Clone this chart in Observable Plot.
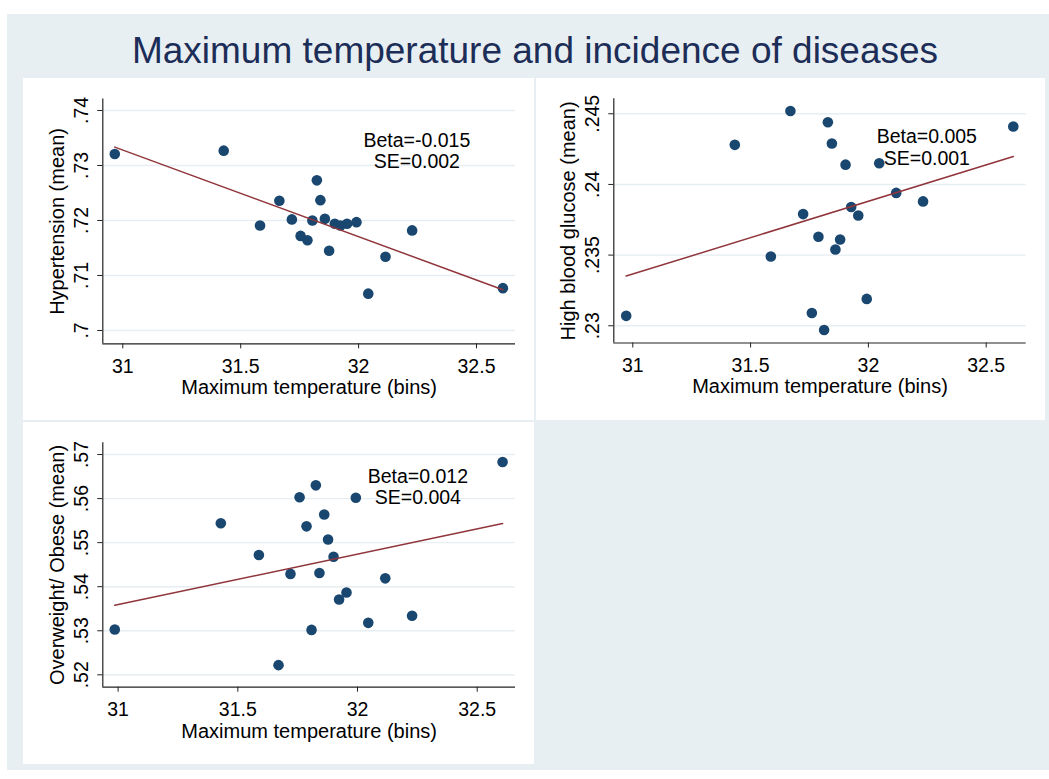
<!DOCTYPE html>
<html>
<head>
<meta charset="utf-8">
<script src="https://cdn.jsdelivr.net/npm/d3@7"></script>
<script src="https://cdn.jsdelivr.net/npm/@observablehq/plot@0.6"></script>
<style>
  html, body { margin: 0; padding: 0; background: #ffffff; }
  body { width: 1049px; height: 779px; position: relative; overflow: hidden;
         font-family: "Liberation Sans", Arial, Helvetica, sans-serif; }
  #bg { position: absolute; left: 7px; top: 14px; width: 1042px; height: 756px; background: #e8eff2; }
  #title { position: absolute; left: 0; top: 31.7px; width: 1070px; text-align: center;
           font-size: 37px; line-height: 37px; color: #1c2d57; white-space: nowrap; }
  .panel { position: absolute; background: #ffffff; }
  .panel svg { display: block; }
</style>
</head>
<body>
<div id="bg"></div>
<div id="title">Maximum temperature and incidence of diseases</div>
<div id="p1" class="panel" style="left:23px; top:78px;"></div>
<div id="p2" class="panel" style="left:536px; top:78px;"></div>
<div id="p3" class="panel" style="left:23px; top:422px;"></div>
<script>
// ---- Data ----
const xLabel = "Maximum temperature (bins)";
const xTicks = [31, 31.5, 32, 32.5];

// Panel 1: Hypertension
const xHyp = [30.966, 31.428, 31.582, 31.664, 31.717, 31.754, 31.783, 31.804, 31.823, 31.838,
              31.857, 31.875, 31.899, 31.923, 31.951, 31.991, 32.041, 32.114, 32.227, 32.612];
const yHyp = [0.7321, 0.7327, 0.7191, 0.7236, 0.7202, 0.7172, 0.7164, 0.7200, 0.7273, 0.7237,
              0.7203, 0.7145, 0.7194, 0.7191, 0.7194, 0.7197, 0.7067, 0.7134, 0.7182, 0.7077];
const yTicksHyp = [0.70, 0.71, 0.72, 0.73, 0.74];
const labelHyp = "Hypertension (mean)";
const noteHyp = "Beta=-0.015\nSE=0.002";

// Panel 2: High blood glucose
const xGlu = [30.972, 31.433, 31.586, 31.669, 31.723, 31.760, 31.788, 31.812, 31.828, 31.845,
              31.860, 31.880, 31.903, 31.927, 31.957, 31.993, 32.046, 32.118, 32.232, 32.615];
const yGlu = [0.2307, 0.2428, 0.2349, 0.2452, 0.2379, 0.2309, 0.2363, 0.2297, 0.2444, 0.2429,
              0.2354, 0.2361, 0.2414, 0.2384, 0.2378, 0.2319, 0.2415, 0.2394, 0.2388, 0.2441];
const yTicksGlu = [0.23, 0.235, 0.24, 0.245];
const labelGlu = "High blood glucose (mean)";
const noteGlu = "Beta=0.005\nSE=0.001";

// Panel 3: Overweight / Obese
const xObe = [30.986, 31.429, 31.588, 31.670, 31.720, 31.758, 31.787, 31.808, 31.826, 31.841,
              31.861, 31.877, 31.900, 31.923, 31.954, 31.993, 32.045, 32.116, 32.228, 32.606];
const yObe = [0.5303, 0.5544, 0.5472, 0.5222, 0.5429, 0.5603, 0.5537, 0.5302, 0.5630, 0.5431,
              0.5564, 0.5507, 0.5468, 0.5371, 0.5387, 0.5602, 0.5318, 0.5419, 0.5334, 0.5683];
const yTicksObe = [0.52, 0.53, 0.54, 0.55, 0.56, 0.57];
const labelObe = "Overweight/ Obese (mean)";
const noteObe = "Beta=0.012\nSE=0.004";

// ---- Styling ----
const NAVY = "#1a476f";
const MAROON = "#90353b";
const GRID = "#e6eef1";
const FONT = "'Liberation Sans', Arial, Helvetica, sans-serif";

const fmtY = d => String(d).replace(/^0\./, ".");

function panel(o) {
  const data = o.xs.map((x, i) => ({x, y: o.ys[i]}));
  return Plot.plot({
    width: o.width, height: o.height,
    marginLeft: o.ml, marginRight: o.mr, marginTop: o.mt, marginBottom: o.mb,
    style: {background: "#ffffff", fontFamily: FONT, fontSize: "19.5px", color: "#000", overflow: "visible"},
    x: {domain: o.xDomain},
    y: {domain: o.yDomain},
    marks: [
      Plot.gridY(o.yTicks, {stroke: GRID, strokeOpacity: 1, strokeWidth: 1.4}),
      Plot.ruleX([o.xDomain[0]], {stroke: "#222", strokeWidth: 1.2}),
      Plot.ruleY([o.yDomain[0]], {stroke: "#222", strokeWidth: 1.2}),
      Plot.axisX(xTicks, {tickSize: 5, tickPadding: 10, tickFormat: d => String(d), label: null,
                          fontSize: 19.5, stroke: "#222", fill: "#000"}),
      Plot.axisY(o.yTicks, {tickSize: 5, tickFormat: () => "", label: null, stroke: "#222"}),
      Plot.text(o.yTicks, {y: d => d, frameAnchor: "left", dx: -21, rotate: -90,
                           textAnchor: "middle", lineAnchor: "middle",
                           text: fmtY, fontSize: 19.5, fill: "#000"}),
      Plot.text([o.yLabel], {frameAnchor: "left", dx: -45, rotate: -90,
                             textAnchor: "middle", lineAnchor: "middle", fontSize: 20, fill: "#000"}),
      Plot.text([xLabel], {frameAnchor: "bottom", dy: 44, textAnchor: "middle", lineAnchor: "middle",
                           fontSize: 20, fill: "#000"}),
      Plot.dot(data, {x: "x", y: "y", r: 5.3, fill: NAVY, stroke: "none"}),
      Plot.linearRegressionY(data, {x: "x", y: "y", ci: 0, stroke: MAROON, strokeWidth: 1.5}),
      Plot.text([o.note], {x: () => o.noteX, y: () => o.noteY, text: d => d,
                           lineHeight: 1.08, fontSize: 19.5, fill: "#000"})
    ]
  });
}

document.getElementById("p1").appendChild(panel({
  xs: xHyp, ys: yHyp, yTicks: yTicksHyp, yLabel: labelHyp, note: noteHyp,
  noteX: 32.247, noteY: 0.73264,
  width: 511, height: 342, ml: 79.3, mr: 19, mt: 20.6, mb: 76.7,
  xDomain: [30.9152, 32.6654], yDomain: [0.69758, 0.74207]
}));

document.getElementById("p2").appendChild(panel({
  xs: xGlu, ys: yGlu, yTicks: yTicksGlu, yLabel: labelGlu, note: noteGlu,
  noteX: 32.248, noteY: 0.24263,
  width: 509, height: 342, ml: 77.3, mr: 19.3, mt: 20.3, mb: 77.5,
  xDomain: [30.9194, 32.6698], yDomain: [0.22878, 0.24606]
}));

document.getElementById("p3").appendChild(panel({
  xs: xObe, ys: yObe, yTicks: yTicksObe, yLabel: labelObe, note: noteObe,
  noteX: 32.252, noteY: 0.56258,
  width: 511, height: 342, ml: 79.3, mr: 19, mt: 20.3, mb: 77.3,
  xDomain: [30.936, 32.660], yDomain: [0.51719, 0.57266]
}));
</script>
</body>
</html>
